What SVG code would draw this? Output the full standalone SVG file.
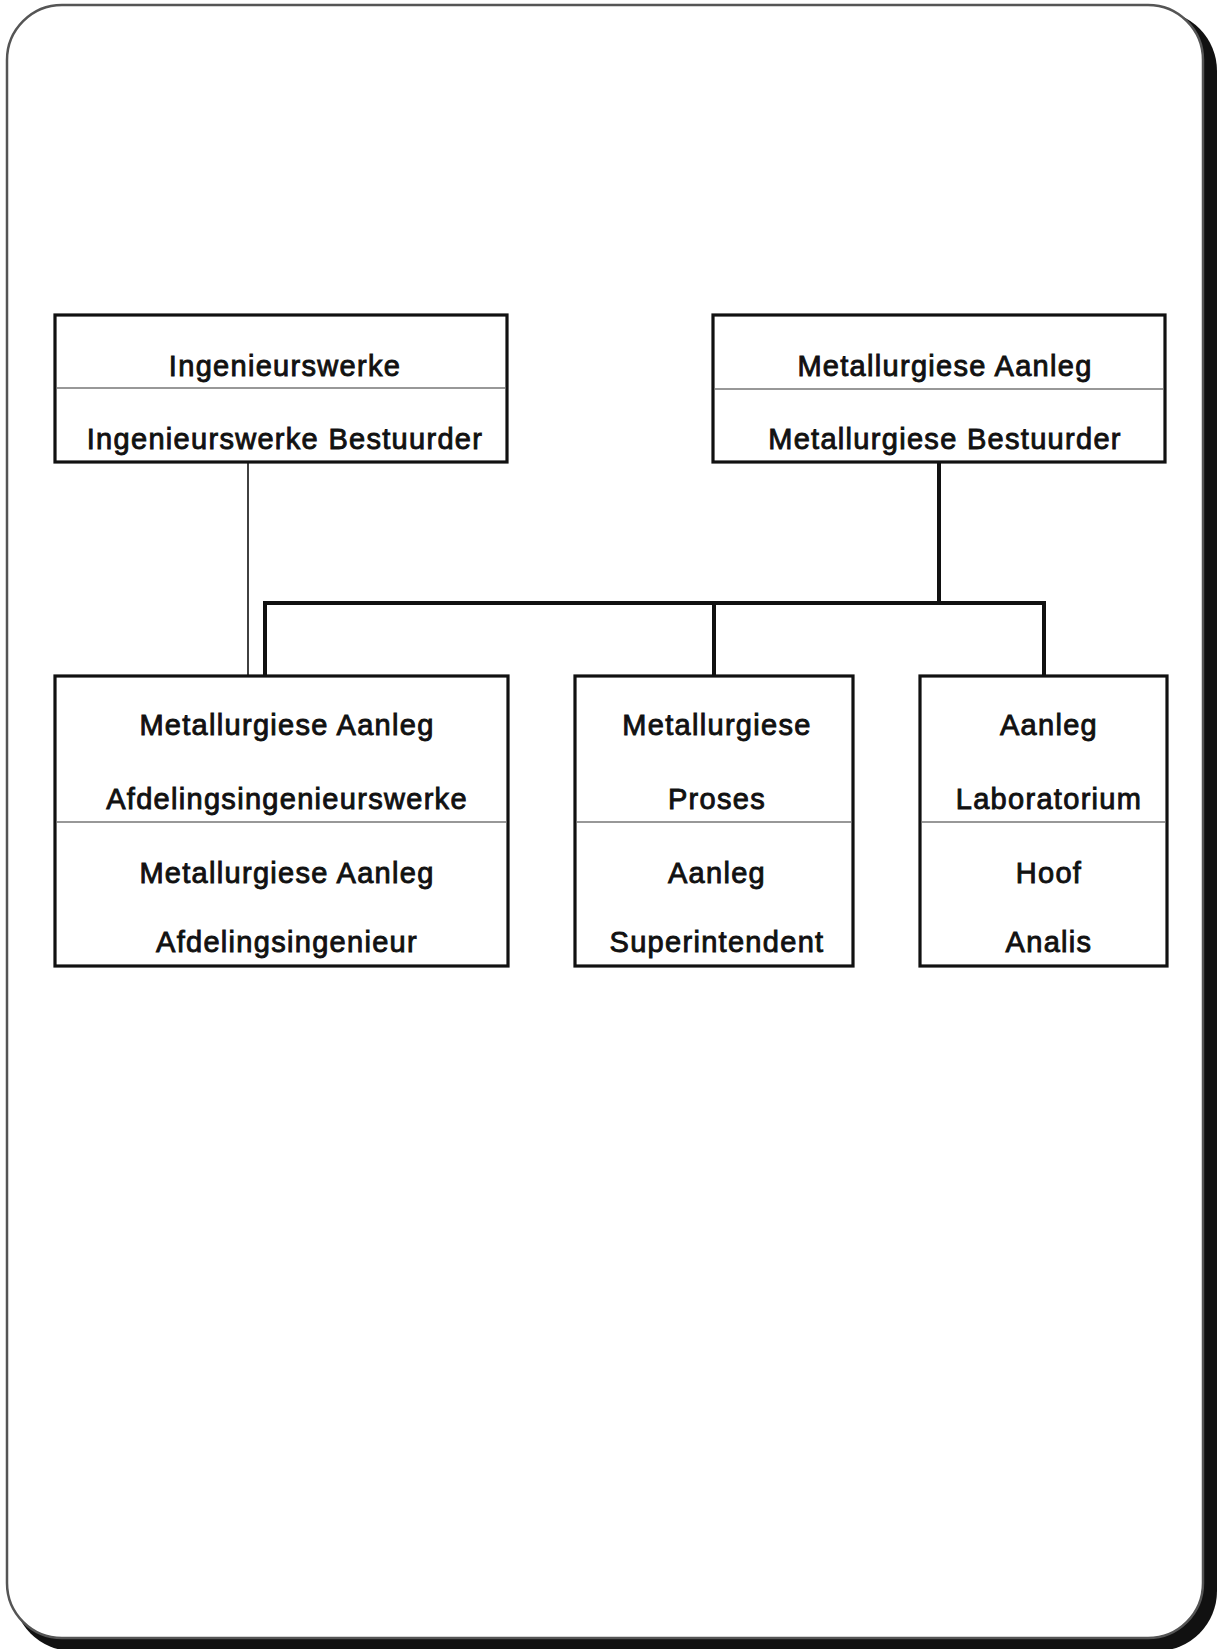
<svg xmlns="http://www.w3.org/2000/svg" width="1221" height="1649" viewBox="0 0 1221 1649">
  <style>
    .box { fill: #fff; stroke: #111; stroke-width: 3.2; }
    .div { stroke: #333; stroke-width: 1.2; }
    .lbl { font-family: "Liberation Sans", Arial, sans-serif; font-size: 29px; letter-spacing: 1.3px; fill: #111; stroke: #111; stroke-width: 0.9; text-anchor: middle; }
    .thick { fill: none; stroke: #111; stroke-width: 4; stroke-linejoin: miter; }
    .thin { fill: none; stroke: #111; stroke-width: 1.6; }
  </style>

  <!-- card with shadowed right/bottom edge -->
  <g id="card">
    <rect x="13" y="11" width="1204" height="1640" rx="60" ry="60" fill="#111"/>
    <rect x="7" y="5" width="1196" height="1633" rx="55" ry="55" fill="#fff" stroke="#555" stroke-width="2.5"/>
  </g>

  <!-- connectors -->
  <g id="connectors">
    <line class="thin" x1="248" y1="462" x2="248" y2="676"/>
    <path class="thick" d="M939 462 V603 M265 676 V603 H1044 V676 M714 603 V676"/>
  </g>

  <g id="node-ingenieurswerke">
    <rect class="box" x="55" y="315" width="452" height="147"/>
    <line class="div" x1="57" y1="388" x2="505" y2="388"/>
    <text class="lbl" x="285" y="376">Ingenieurswerke</text>
    <text class="lbl" x="285" y="449">Ingenieurswerke Bestuurder</text>
  </g>

  <g id="node-metallurgiese-aanleg">
    <rect class="box" x="713" y="315" width="452" height="147"/>
    <line class="div" x1="715" y1="389" x2="1163" y2="389"/>
    <text class="lbl" x="945" y="376">Metallurgiese Aanleg</text>
    <text class="lbl" x="945" y="449">Metallurgiese Bestuurder</text>
  </g>

  <g id="node-afdelingsingenieur">
    <rect class="box" x="55" y="676" width="453" height="290"/>
    <line class="div" x1="57" y1="822" x2="506" y2="822"/>
    <text class="lbl" x="287" y="735">Metallurgiese Aanleg</text>
    <text class="lbl" x="287" y="809">Afdelingsingenieurswerke</text>
    <text class="lbl" x="287" y="883">Metallurgiese Aanleg</text>
    <text class="lbl" x="287" y="952">Afdelingsingenieur</text>
  </g>

  <g id="node-superintendent">
    <rect class="box" x="575" y="676" width="278" height="290"/>
    <line class="div" x1="577" y1="822" x2="851" y2="822"/>
    <text class="lbl" x="717" y="735">Metallurgiese</text>
    <text class="lbl" x="717" y="809">Proses</text>
    <text class="lbl" x="717" y="883">Aanleg</text>
    <text class="lbl" x="717" y="952">Superintendent</text>
  </g>

  <g id="node-laboratorium">
    <rect class="box" x="920" y="676" width="247" height="290"/>
    <line class="div" x1="922" y1="822" x2="1165" y2="822"/>
    <text class="lbl" x="1049" y="735">Aanleg</text>
    <text class="lbl" x="1049" y="809">Laboratorium</text>
    <text class="lbl" x="1049" y="883">Hoof</text>
    <text class="lbl" x="1049" y="952">Analis</text>
  </g>
</svg>
